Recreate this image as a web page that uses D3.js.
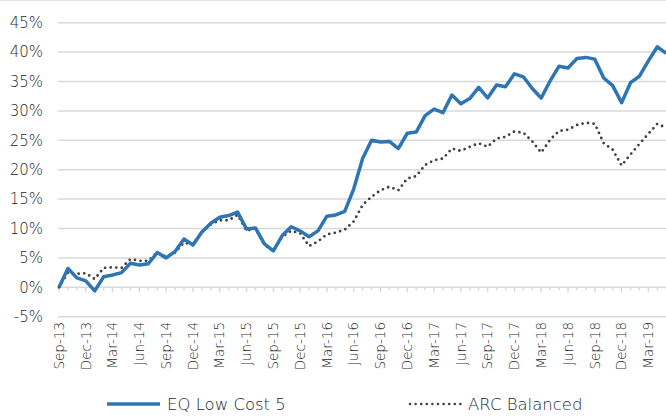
<!DOCTYPE html>
<html>
<head>
<meta charset="utf-8">
<script src="https://cdn.jsdelivr.net/npm/d3@7"></script>
<style>
  body { margin: 0; background: #fff; }
  svg text { font-family: "DejaVu Sans", sans-serif; font-weight: 200; fill: #1f1f1f; }
</style>
</head>
<body>
<div id="chart"></div>
<script>
// months, Sep-13 .. May-19
var months = ["Sep-13","Oct-13","Nov-13","Dec-13","Jan-14","Feb-14","Mar-14","Apr-14","May-14","Jun-14","Jul-14","Aug-14",
  "Sep-14","Oct-14","Nov-14","Dec-14","Jan-15","Feb-15","Mar-15","Apr-15","May-15","Jun-15","Jul-15","Aug-15",
  "Sep-15","Oct-15","Nov-15","Dec-15","Jan-16","Feb-16","Mar-16","Apr-16","May-16","Jun-16","Jul-16","Aug-16",
  "Sep-16","Oct-16","Nov-16","Dec-16","Jan-17","Feb-17","Mar-17","Apr-17","May-17","Jun-17","Jul-17","Aug-17",
  "Sep-17","Oct-17","Nov-17","Dec-17","Jan-18","Feb-18","Mar-18","Apr-18","May-18","Jun-18","Jul-18","Aug-18",
  "Sep-18","Oct-18","Nov-18","Dec-18","Jan-19","Feb-19","Mar-19","Apr-19","May-19"];

var eqLowCost = [0.0, 3.2, 1.6, 1.1, -0.6, 1.8, 2.1, 2.5, 4.1, 3.8, 4.0, 5.9,
  5.0, 6.1, 8.2, 7.2, 9.4, 10.9, 11.9, 12.2, 12.8, 9.9, 10.1, 7.4,
  6.2, 8.8, 10.3, 9.6, 8.6, 9.6, 12.1, 12.3, 12.9, 16.7, 21.9, 25.0,
  24.7, 24.8, 23.6, 26.2, 26.4, 29.2, 30.3, 29.7, 32.7, 31.2, 32.1, 34.0,
  32.2, 34.4, 34.1, 36.3, 35.8, 33.8, 32.2, 35.1, 37.6, 37.3, 38.9, 39.1,
  38.8, 35.6, 34.3, 31.4, 34.8, 35.9, 38.5, 40.9, 39.8];

var arcBalanced = [0.0, 2.5, 2.3, 2.4, 1.4, 3.3, 3.4, 3.3, 4.8, 4.5, 4.5, 5.9,
  5.2, 5.9, 7.6, 7.2, 9.4, 10.7, 11.4, 11.4, 12.3, 9.6, 10.0, 7.2,
  6.2, 8.6, 9.6, 9.2, 7.0, 7.8, 9.0, 9.3, 9.8, 11.2, 14.0, 15.4,
  16.5, 17.1, 16.5, 18.5, 18.9, 20.8, 21.6, 21.9, 23.6, 23.2, 23.9, 24.5,
  23.9, 25.3, 25.6, 26.5, 26.3, 24.8, 22.9, 25.1, 26.6, 26.8, 27.6, 28.0,
  27.8, 24.5, 23.4, 20.7, 22.6, 24.4, 26.1, 27.8, 27.1];

var yTicks = [-5, 0, 5, 10, 15, 20, 25, 30, 35, 40, 45];
var seriesNames = ["EQ Low Cost 5", "ARC Balanced"];

var width = 666, height = 416;
var margin = {top: 22.7, left: 59, bottom: 316.7};
var step = 8.93;

var svg = d3.select("#chart").append("svg")
  .attr("width", width)
  .attr("height", height);

var x = d3.scalePoint()
  .domain(months)
  .range([margin.left, margin.left + step * (months.length - 1)]);

var y = d3.scaleLinear()
  .domain([-5, 45])
  .range([margin.bottom, margin.top]);

// top border
svg.append("line")
  .attr("x1", 0).attr("x2", width)
  .attr("y1", 0.5).attr("y2", 0.5)
  .style("stroke", "#e6e6e6");

// gridlines
svg.append("g").selectAll("line")
  .data(yTicks)
  .enter().append("line")
    .attr("x1", margin.left - 1)
    .attr("x2", width)
    .attr("y1", function(d) { return y(d); })
    .attr("y2", function(d) { return y(d); })
    .style("stroke", "#d9d9d9")
    .style("stroke-width", 1.5);

// y axis labels
var yAxis = svg.append("g")
  .attr("transform", "translate(" + margin.left + ",0)")
  .call(d3.axisLeft(y).tickValues(yTicks).tickSize(0).tickPadding(16)
    .tickFormat(function(d) { return d + "%"; }));
yAxis.select(".domain").remove();
yAxis.selectAll("text")
  .style("font-size", "15px")
  .style("font-family", "'DejaVu Sans', sans-serif")
  .style("font-weight", 200)
  .style("fill", "#1f1f1f");

// x axis ticks on the 0% line
var xTicks = svg.append("g");
xTicks.selectAll("line")
  .data(months)
  .enter().append("line")
    .attr("x1", function(d) { return x(d); })
    .attr("x2", function(d) { return x(d); })
    .attr("y1", y(0))
    .attr("y2", function(d, i) { return y(0) + (i % 3 === 0 ? 5 : 3); })
    .style("stroke", "#d9d9d9")
    .style("stroke-width", 1.5);

// x labels every 3 months
svg.append("g").selectAll("text")
  .data(months.filter(function(d, i) { return i % 3 === 0; }))
  .enter().append("text")
    .attr("transform", function(d) { return "translate(" + x(d) + ",322) rotate(-90)"; })
    .attr("dy", "0.35em")
    .attr("text-anchor", "end")
    .style("font-size", "13.5px")
    .text(function(d) { return d; });

var line = d3.line()
  .x(function(d, i) { return x(months[i]); })
  .y(function(d) { return y(d); });

svg.append("path")
  .datum(arcBalanced)
  .attr("d", line)
  .style("fill", "none")
  .style("stroke", "#404040")
  .style("stroke-width", 2.8)
  .style("stroke-linecap", "round")
  .style("stroke-dasharray", "0,5.6");

svg.append("path")
  .datum(eqLowCost)
  .attr("d", line)
  .style("fill", "none")
  .style("stroke", "#2E75B6")
  .style("stroke-width", 3.5)
  .style("stroke-linejoin", "round");

// legend
var legend = svg.append("g");
legend.append("line")
  .attr("x1", 107).attr("x2", 160)
  .attr("y1", 404).attr("y2", 404)
  .style("stroke", "#2E75B6")
  .style("stroke-width", 3.5);
legend.append("text")
  .attr("x", 167).attr("y", 404)
  .attr("dy", "0.35em")
  .style("font-size", "16.5px")
  .text(seriesNames[0]);
legend.append("line")
  .attr("x1", 410).attr("x2", 464)
  .attr("y1", 404).attr("y2", 404)
  .style("stroke", "#404040")
  .style("stroke-width", 2.6)
  .style("stroke-linecap", "round")
  .style("stroke-dasharray", "0,5.6");
legend.append("text")
  .attr("x", 468).attr("y", 404)
  .attr("dy", "0.35em")
  .style("font-size", "16.5px")
  .text(seriesNames[1]);
</script>
</body>
</html>
